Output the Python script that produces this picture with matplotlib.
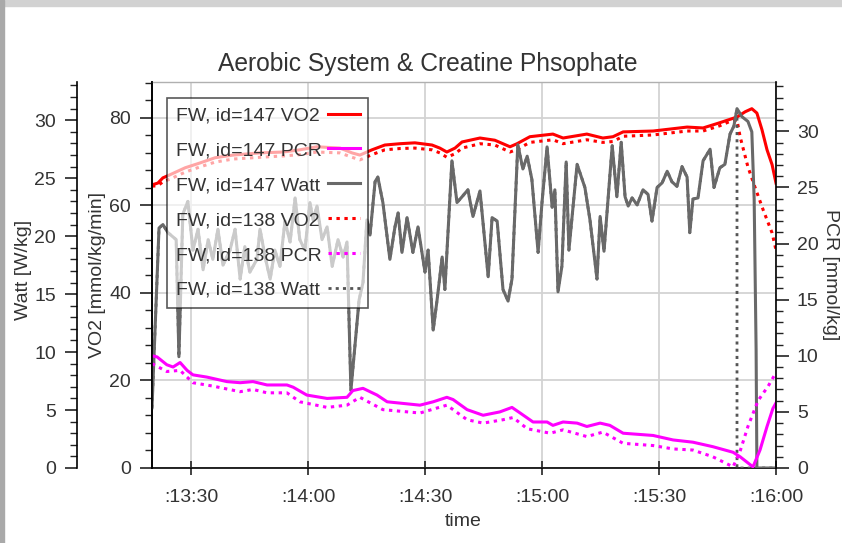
import matplotlib.pyplot as plt
from matplotlib.patches import Rectangle
from matplotlib.ticker import MultipleLocator, FuncFormatter

plt.rcParams['font.family'] = ['Liberation Sans', 'DejaVu Sans']
plt.rcParams['text.color'] = '#333333'
plt.rcParams['xtick.color'] = '#222222'
plt.rcParams['ytick.color'] = '#222222'
plt.rcParams['xtick.labelcolor'] = '#333333'
plt.rcParams['ytick.labelcolor'] = '#333333'

# time in minutes of the day (800 = 13:20)
vo2_time = [800.0, 801.5, 802.8, 804.6, 808.5, 812.3, 816.2, 820.8, 827.7, 833.6,
            837.9, 842.3, 848.2, 851.3, 853.3, 856.4, 859.7, 863.6, 867.4, 871.8,
            873.8, 875.6, 877.7, 879.5, 884.1, 887.9, 891.8, 893.6, 896.9, 902.8,
            905.4, 911.5, 915.6, 918.2, 920.8, 928.5, 937.2, 941.3, 945.6]
vo2_147_tail_time = [950.0, 952.1, 953.8, 955.1, 956.4, 957.7, 959.0, 960.0]
vo2_138_tail_time = [948.2, 950.0, 950.8, 952.8, 954.6, 956.7, 959.0, 960.0]

vo2_147 = [64.7, 65.1, 66.3, 67.0, 68.6, 69.7, 70.9, 71.5, 72.0, 72.2,
           72.7, 73.4, 73.1, 72.0, 71.5, 72.7, 73.8, 74.1, 74.3, 73.8,
           73.1, 72.2, 73.1, 74.5, 75.4, 74.9, 73.4, 74.1, 75.7, 76.3,
           75.4, 76.3, 75.4, 75.7, 76.8, 77.0, 77.9, 77.7, 78.9,
           80.2, 81.4, 82.1, 81.1, 77.3, 72.7, 69.3, 65.1]
vo2_138 = [64.4, 64.5, 65.4, 66.0, 67.6, 68.8, 69.9, 70.6, 71.0, 71.3,
           71.6, 72.2, 72.0, 71.0, 70.4, 71.6, 72.7, 73.0, 73.1, 72.7,
           72.0, 71.0, 71.8, 73.1, 74.1, 73.8, 72.2, 72.8, 74.4, 75.0,
           74.1, 75.0, 74.4, 74.6, 75.8, 76.1, 77.0, 77.0, 78.2,
           79.2, 79.5, 75.7, 68.8, 64.2, 59.0, 53.7, 49.8]

pcr_147_time = [800.0, 801.3, 803.8, 805.4, 807.2, 809.0, 810.5, 814.1, 819.2, 822.6,
                825.9, 829.5, 834.6, 836.2, 839.7, 844.9, 850.0, 851.5, 854.1, 857.7,
                860.3, 868.7, 872.1, 875.6, 877.2, 880.8, 884.9, 889.2, 892.3, 894.4,
                897.7, 901.3, 902.8, 905.4, 909.0, 911.5, 914.9, 917.4, 920.8, 928.5,
                933.6, 938.7, 943.8, 949.0, 950.8, 954.1, 955.9, 957.7, 959.2, 960.0]
pcr_147 = [10.0, 9.9, 9.2, 9.0, 9.4, 8.7, 8.3, 8.1, 7.7, 7.6,
           7.7, 7.4, 7.4, 7.2, 6.5, 6.2, 6.3, 6.9, 7.1, 6.5,
           5.9, 5.6, 5.9, 6.3, 6.1, 5.2, 4.7, 5.0, 5.4, 4.9,
           4.1, 4.1, 3.8, 4.1, 4.0, 3.7, 4.0, 3.8, 3.1, 2.9,
           2.5, 2.3, 1.9, 1.4, 1.0, 0.1, 1.6, 3.7, 5.3, 5.8]

pcr_138_time = [800.0, 803.8, 807.2, 810.5, 815.6, 822.6, 825.9, 829.5, 834.6, 837.9,
                844.9, 850.0, 853.3, 859.2, 868.7, 875.6, 880.8, 884.9, 890.0, 892.6,
                896.2, 902.1, 905.4, 911.5, 915.6, 920.8, 928.5, 933.6, 938.7, 943.8,
                949.0, 950.8, 952.8, 955.4, 958.0, 960.0]
pcr_138 = [9.3, 8.6, 8.7, 7.6, 7.3, 6.8, 7.0, 6.7, 6.7, 5.9,
           5.4, 5.6, 6.3, 5.2, 4.9, 5.6, 4.3, 4.0, 4.3, 4.5,
           3.5, 3.1, 3.4, 2.8, 3.2, 2.2, 2.0, 1.7, 1.6, 1.0,
           0.1, 1.5, 3.7, 6.0, 7.3, 8.5]

watt_time = [800.0, 801.8, 802.8, 804.1, 806.2, 806.9, 807.9, 809.2, 810.5, 811.8,
             813.1, 814.4, 815.6, 816.9, 818.2, 820.0, 821.3, 822.6, 823.8, 825.1,
             826.9, 827.7, 829.0, 830.3, 831.5, 832.8, 834.1, 835.4, 836.7, 837.9,
             839.2, 840.5, 841.3, 842.3, 843.6, 844.9, 846.2, 847.7, 849.0, 850.0,
             851.0, 853.1, 854.1, 855.1, 855.9, 857.2, 857.9, 859.2, 861.0, 862.3,
             863.1, 864.1, 865.4, 866.9, 868.2, 870.0, 870.8, 872.1, 873.1, 874.4,
             875.1, 876.9, 878.2, 879.5, 881.0, 882.3, 884.1, 886.2, 887.2, 888.5,
             890.0, 891.3, 892.3, 893.8, 895.1, 896.2, 897.4, 899.0, 900.0, 901.3,
             902.6, 903.3, 904.1, 905.1, 906.2, 906.9, 909.0, 911.0, 912.3, 914.1,
             914.9, 915.9, 918.0, 919.2, 920.3, 921.3, 922.1, 923.1, 924.4, 925.9,
             927.2, 928.2, 929.5, 930.8, 932.1, 933.3, 934.6, 935.9, 937.2, 937.9,
             938.7, 940.0, 941.3, 943.1, 944.1, 945.6, 946.9, 948.2, 949.2, 950.0,
             951.3, 952.8, 953.8, 954.4, 954.9, 955.1, 960.0]
watt_147 = [5.2, 20.7, 21.0, 20.3, 19.7, 9.6, 21.9, 23.0, 18.8, 20.6,
            17.1, 19.7, 18.0, 20.6, 17.5, 18.8, 20.6, 16.3, 19.1, 16.9,
            18.0, 20.6, 18.2, 16.3, 18.8, 17.4, 21.3, 19.5, 23.3, 19.7,
            18.8, 22.9, 21.4, 22.6, 19.7, 20.8, 17.4, 19.7, 18.2, 19.5,
            6.7, 14.5, 16.0, 21.4, 20.1, 24.7, 25.1, 22.9, 18.0, 20.8,
            22.0, 18.6, 21.6, 18.6, 20.8, 16.9, 18.8, 11.9, 14.5, 18.2,
            15.4, 26.5, 22.9, 23.4, 24.0, 21.7, 23.9, 16.5, 21.6, 21.3,
            15.4, 14.4, 16.3, 27.9, 25.8, 26.9, 24.9, 18.6, 22.9, 27.7,
            22.5, 24.0, 15.2, 17.4, 26.4, 18.8, 26.2, 24.2, 21.4, 16.3,
            21.7, 18.7, 27.8, 23.4, 28.1, 23.4, 22.6, 23.3, 22.7, 24.0,
            23.6, 21.3, 24.2, 24.6, 25.6, 24.7, 24.3, 26.0, 25.1, 20.3,
            23.2, 23.3, 26.5, 27.5, 24.2, 25.9, 26.2, 28.8, 29.5, 31.0,
            30.3, 29.9, 29.0, 23.2, 10.2, 0.0, 0.0]

# id=138 follows the same load profile and stops at the peak
peak = watt_time.index(950.0)
watt_138_time = watt_time[:peak + 1] + [950.0, 960.0]
watt_138 = watt_147[:peak + 1] + [0.0, 0.0]

RED = '#ff0000'
MAG = '#ff00ff'
GREY = '#696969'
DOT = (0, (1.1, 1.5))

fig = plt.figure(figsize=(8.42, 5.43), dpi=100)
fig.patches.append(Rectangle((0, 1 - 6 / 543), 1, 6 / 543, transform=fig.transFigure,
                             color='#d2d2d2', zorder=-10))
fig.patches.append(Rectangle((0, 0), 4 / 842, 1, transform=fig.transFigure,
                             color='#a9a9a9', zorder=-10))

ax = fig.add_axes([152 / 842, 75 / 543, 624 / 842, 386 / 543])
ax_w = ax.twinx()
ax_p = ax.twinx()

l1, = ax.plot(vo2_time + vo2_147_tail_time, vo2_147, color=RED, lw=2.2)
l4, = ax.plot(vo2_time + vo2_138_tail_time, vo2_138, color=RED, lw=2.2, ls=DOT)
l6, = ax_w.plot(watt_138_time, watt_138, color='#555555', lw=2.0, ls=DOT)
l3, = ax_w.plot(watt_time, watt_147, color=GREY, lw=2.2)
l2, = ax_p.plot(pcr_147_time, pcr_147, color=MAG, lw=2.2)
l5, = ax_p.plot(pcr_138_time, pcr_138, color=MAG, lw=2.2, ls=DOT)

ax.set_xlim(800, 960)
ax.set_ylim(0, 88.2)
ax_w.set_ylim(0, 33.3)
ax_p.set_ylim(0, 34.4)

ax.xaxis.set_major_locator(MultipleLocator(30))
ax.xaxis.set_major_formatter(FuncFormatter(lambda v, _: ':%d:%02d' % (v // 60, v % 60)))
ax.yaxis.set_major_locator(MultipleLocator(20))
ax.yaxis.set_minor_locator(MultipleLocator(4))
ax_w.yaxis.set_major_locator(MultipleLocator(5))
ax_w.yaxis.set_minor_locator(MultipleLocator(1))
ax_p.yaxis.set_major_locator(MultipleLocator(5))
ax_p.yaxis.set_minor_locator(MultipleLocator(1))

ax.grid(True, which='major', color='#d3d3d3', lw=1.3)
ax.set_axisbelow(True)

# Watt axis sits on the far left, VO2 next to the plot, PCR on the right
ax_w.yaxis.set_label_position('left')
ax_w.yaxis.set_ticks_position('left')
ax_w.spines['left'].set_position(('axes', -75 / 624))
ax_w.spines['left'].set_visible(True)
for a in (ax_w, ax_p):
    a.spines['top'].set_visible(False)
    a.spines['bottom'].set_visible(False)
ax_w.spines['right'].set_visible(False)
ax.spines['right'].set_visible(False)
ax.spines['top'].set_color('#b0b0b0')
for a in (ax, ax_w, ax_p):
    for s in a.spines.values():
        s.set_linewidth(1.2)
ax.spines['top'].set_linewidth(1.0)

ax.tick_params(axis='x', which='major', direction='inout', length=10, width=1.2,
               labelsize=14, pad=10)
for a in (ax, ax_w, ax_p):
    a.tick_params(axis='y', which='major', direction='out', length=9, width=1.2,
                  labelsize=14, pad=6)
    a.tick_params(axis='y', which='minor', direction='out', length=5, width=1.0)

fig.text(428 / 842, 1 - 71 / 543, 'Aerobic System & Creatine Phsophate',
         ha='center', va='baseline', fontsize=17.7)
fig.text(24 / 842, 1 - 270 / 543, 'Watt [W/kg]', rotation=90,
         ha='center', va='center', fontsize=14)
fig.text(97 / 842, 1 - 275 / 543, 'VO2 [mmol/kg/min]', rotation=90,
         ha='center', va='center', fontsize=14)
fig.text(831 / 842, 1 - 275 / 543, 'PCR [mmol/kg]', rotation=270,
         ha='center', va='center', fontsize=14)
fig.text(463 / 842, 1 - 522 / 543, 'time', ha='center', va='center', fontsize=14)

handles = [l1, l2, l3, l4, l5, l6]
labels = ['FW, id=147 VO2', 'FW, id=147 PCR', 'FW, id=147 Watt',
          'FW, id=138 VO2', 'FW, id=138 PCR', 'FW, id=138 Watt']
leg = ax_p.legend(handles, labels, loc='upper left',
                  bbox_to_anchor=(15 / 624, 1 - 16 / 386), borderaxespad=0,
                  markerfirst=False, fontsize=14, frameon=True, fancybox=False,
                  framealpha=0.65, edgecolor='black', handlelength=1.6,
                  handletextpad=0.35, labelspacing=0.89, borderpad=0.45)
leg.get_frame().set_linewidth(1.2)
leg.set_zorder(20)

# keep labels left-aligned with the line samples lined up on the right
fig.canvas.draw()
widths = [t.get_window_extent().width for t in leg.texts]
column = leg._legend_handle_box.get_children()[0]
for row, w in zip(column.get_children(), widths):
    row.sep += (max(widths) - w) * 72 / fig.dpi

fig.savefig('out.png', dpi=100)
